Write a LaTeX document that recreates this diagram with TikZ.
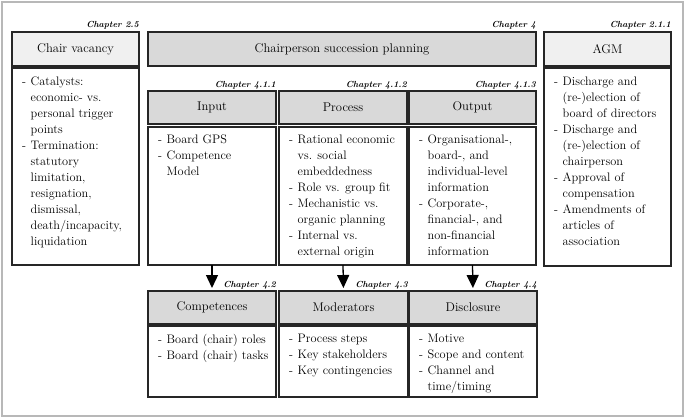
\documentclass[tikz,border=0pt]{standalone}
\usetikzlibrary{arrows.meta,calc}
\newcommand\itm{\makebox[8.5pt][l]{-}}
\newcommand\cnt{\hspace*{8.5pt}}
\begin{document}
\begin{tikzpicture}[x=1pt,y=-1pt,
  frame/.style={draw=black!28, line width=2pt},
  box/.style={draw=black!85, line width=1.2pt, anchor=north west, inner sep=0pt, outer sep=0pt},
  hdr/.style={box, fill=black!15, font=\rmfamily\fontsize{12.6}{16}\selectfont},
  hdrl/.style={box, fill=black!6, font=\rmfamily\fontsize{12.6}{16}\selectfont},
  body/.style={box, fill=white},
  txt/.style={anchor=north west, inner sep=0pt, align=left, font=\rmfamily\fontsize{12.3}{16}\selectfont},
  chap/.style={anchor=base east, inner sep=0pt, font=\rmfamily\fontsize{8.8}{11}\selectfont\bfseries\itshape},
  arr/.style={line width=1.3pt, -{Triangle[width=12pt,length=13pt]}, shorten >=3pt}
]
\useasboundingbox (0,0) rectangle (685,418);
\draw[frame] (2,1.5) rectangle (683,416);

% top row
\node[hdrl, minimum width=127, minimum height=34] (cvh) at (12,32) {Chair vacancy};
\node[body, minimum width=127, minimum height=197] (cvb) at (12,68) {};
\node[chap] (cvc) at ($(cvh.north east)+(0,-5)$) {Chapter 2.5};
\node[txt] (cvt) at ($(cvb.north west)+(10,9)$) {\itm Catalysts:\\ \cnt economic- vs.\\ \cnt personal trigger\\ \cnt points\\ \itm Termination:\\ \cnt statutory\\ \cnt limitation,\\ \cnt resignation,\\ \cnt dismissal,\\ \cnt death/incapacity,\\ \cnt liquidation};

\node[hdr, minimum width=388, minimum height=34] (csh) at (148,32) {Chairperson succession planning};
\node[chap] (csc) at ($(csh.north east)+(0,-5)$) {Chapter 4};

\node[hdrl, minimum width=127, minimum height=34] (agh) at (544,32) {AGM};
\node[body, minimum width=127, minimum height=198] (agb) at (544,68) {};
\node[chap] (agc) at ($(agh.north east)+(0,-5)$) {Chapter 2.1.1};
\node[txt] (agt) at ($(agb.north west)+(10,9)$) {\itm Discharge and\\ \cnt (re-)election of\\ \cnt board of directors\\ \itm Discharge and\\ \cnt (re-)election of\\ \cnt chairperson\\ \itm Approval of\\ \cnt compensation\\ \itm Amendments of\\ \cnt articles of\\ \cnt association};

% middle row
\node[hdr, minimum width=128, minimum height=33] (inh) at (148,91) {Input};
\node[body, minimum width=128, minimum height=138] (inb) at (148,127) {};
\node[chap] (inc) at ($(inh.north east)+(0,-4)$) {Chapter 4.1.1};
\node[txt] (intx) at ($(inb.north west)+(10,7.5)$) {\itm Board GPS\\ \itm Competence\\ \cnt Model};

\node[hdr, minimum width=128, minimum height=33] (prh) at (279,91) {Process};
\node[body, minimum width=128, minimum height=138] (prb) at (279,127) {};
\node[chap] (prc) at ($(prh.north east)+(0,-4)$) {Chapter 4.1.2};
\node[txt] (prt) at ($(prb.north west)+(10,7.5)$) {\itm Rational economic\\ \cnt vs. social\\ \cnt embeddedness\\ \itm Role vs. group fit\\ \itm Mechanistic vs.\\ \cnt organic planning\\ \itm Internal vs.\\ \cnt external origin};

\node[hdr, minimum width=127, minimum height=33] (ouh) at (409,91) {Output};
\node[body, minimum width=127, minimum height=138] (oub) at (409,127) {};
\node[chap] (ouc) at ($(ouh.north east)+(0,-4)$) {Chapter 4.1.3};
\node[txt] (out) at ($(oub.north west)+(10,7.5)$) {\itm Organisational-,\\ \cnt board-, and\\ \cnt individual-level\\ \cnt information\\ \itm Corporate-,\\ \cnt financial-, and\\ \cnt non-financial\\ \cnt information};

% bottom row
\node[hdr, minimum width=128, minimum height=33] (cph) at (148,291) {Competences};
\node[body, minimum width=128, minimum height=71] (cpb) at (148,326) {};
\node[chap] (cpc) at ($(cph.north east)+(0,-4)$) {Chapter 4.2};
\node[txt] (cpt) at ($(cpb.north west)+(10,8)$) {\itm Board (chair) roles\\ \itm Board (chair) tasks};

\node[hdr, minimum width=129, minimum height=33] (moh) at (279,291) {Moderators};
\node[body, minimum width=129, minimum height=71] (mob) at (279,326) {};
\node[chap] (moc) at ($(moh.north east)+(0,-4)$) {Chapter 4.3};
\node[txt] (mot) at ($(mob.north west)+(10,8)$) {\itm Process steps\\ \itm Key stakeholders\\ \itm Key contingencies};

\node[hdr, minimum width=128, minimum height=33] (dih) at (409,291) {Disclosure};
\node[body, minimum width=128, minimum height=71] (dib) at (409,326) {};
\node[chap] (dic) at ($(dih.north east)+(0,-4)$) {Chapter 4.4};
\node[txt] (dit) at ($(dib.north west)+(10,8)$) {\itm Motive\\ \itm Scope and content\\ \itm Channel and\\ \cnt time/timing};

% arrows
\draw[arr] (inb.south) -- (cph.north);
\draw[arr] (prb.south) -- (moh.north);
\draw[arr] (oub.south) -- (dih.north);
\end{tikzpicture}
\end{document}
